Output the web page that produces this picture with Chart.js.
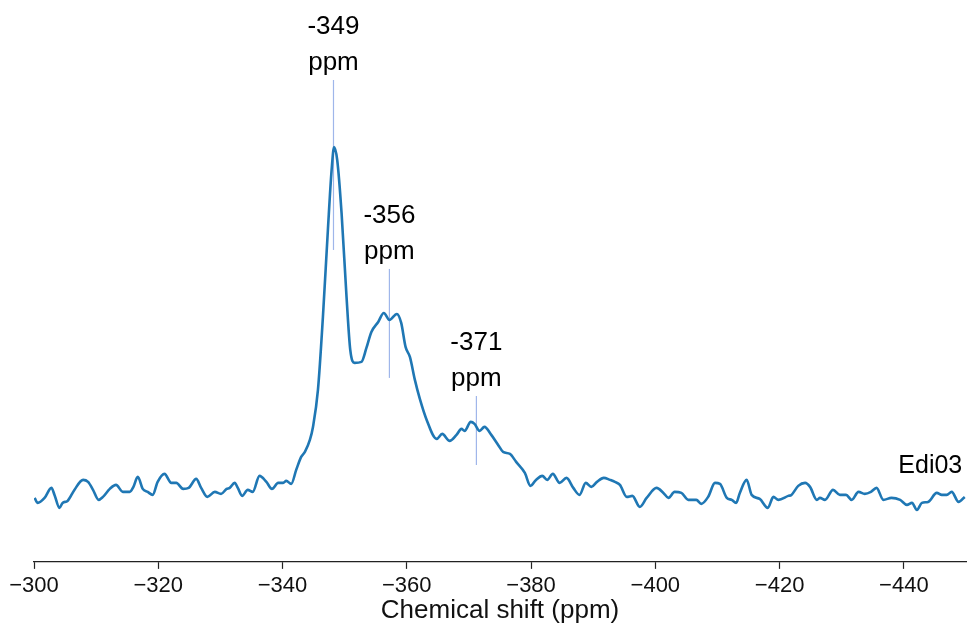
<!DOCTYPE html>
<html lang="en">
<head>
  <meta charset="UTF-8">
  <title>Edi03 NMR spectrum</title>
  <script src="https://cdn.jsdelivr.net/npm/chart.js"></script>
  <style>
    html, body { margin: 0; padding: 0; background: #fff; }
    #wrap { position: relative; width: 967px; height: 628px; }
  </style>
</head>
<body>
  <div id="wrap"><canvas id="spectrum"></canvas></div>

  <script>
    // spectrum (ppm, intensity in arbitrary units)
    const shiftPpm = [
      -300.1, -300.6, -301.7, -302.8, -303.3, -304.1, -304.6, -305.4, -306.5, -307.9,
      -308.7, -309.5, -310.4, -311.1, -312.2, -313.2, -314.3, -315.4, -316.0, -316.7,
      -317.5, -318.3, -319.1, -319.9, -321.0, -322.1, -322.9, -324.0, -324.9, -326.1,
      -326.9, -327.9, -329.1, -330.1, -331.0, -331.5, -332.3, -332.8, -333.5, -334.4,
      -335.2, -336.3, -337.4, -338.3, -339.3, -340.1, -340.6, -341.4, -342.2, -343.0,
      -343.6, -344.4, -344.9, -345.7, -346.5, -347.3, -347.9, -348.3, -348.8, -349.5,
      -350.3, -350.9, -351.6, -352.7, -353.5, -354.3, -355.4, -356.3, -357.2, -358.4,
      -359.1, -359.8, -360.5, -361.3, -362.1, -363.2, -364.8, -365.7, -366.9, -368.0,
      -368.8, -369.3, -370.3, -370.9, -371.7, -372.5, -373.6, -374.7, -375.5, -376.6,
      -377.6, -379.0, -379.9, -380.8, -381.8, -382.6, -383.5, -384.6, -385.7, -386.8,
      -387.8, -388.8, -389.7, -390.6, -391.7, -392.7, -393.5, -394.3, -395.4, -396.3,
      -397.5, -398.6, -400.2, -401.3, -402.1, -403.1, -404.2, -405.3, -406.6, -407.4,
      -408.5, -409.6, -410.4, -411.5, -412.3, -413.0, -413.6, -414.7, -415.5, -416.8,
      -418.1, -419.0, -419.8, -421.4, -421.9, -423.0, -424.1, -424.9, -426.0, -426.5,
      -427.3, -428.6, -429.7, -430.7, -431.6, -432.7, -433.7, -434.7, -435.6, -436.7,
      -438.0, -439.4, -440.5, -441.3, -442.1, -442.9, -443.9, -445.3, -446.1, -446.9,
      -447.7, -448.8, -449.8
    ];
    const intensity = [
      64, 59, 64, 74, 67, 54, 59, 61, 72, 82,
      80, 72, 62, 65, 73, 77, 70, 70, 75, 85,
      73, 70, 67, 80, 88, 79, 79, 73, 74, 83,
      74, 65, 70, 68, 73, 74, 79, 74, 66, 72,
      70, 86, 80, 73, 79, 79, 81, 78, 92, 105,
      110, 122, 135, 172, 245, 332, 392, 415, 402, 349,
      265, 212, 199, 200, 214, 230, 240, 249, 242, 248,
      239, 215, 205, 182, 163, 142, 123, 128, 121, 127,
      133, 131, 140, 138, 131, 135, 127, 117, 110, 108,
      100, 89, 76, 82, 86, 82, 88, 79, 84, 74,
      67, 79, 75, 80, 84, 82, 80, 77, 65, 66,
      55, 64, 74, 69, 64, 70, 69, 62, 62, 58,
      65, 79, 78, 64, 62, 59, 69, 82, 67, 63,
      54, 65, 62, 66, 67, 76, 79, 75, 62, 64,
      62, 72, 67, 67, 62, 70, 68, 70, 74, 62,
      64, 62, 57, 59, 52, 59, 60, 69, 67, 67,
      70, 60, 65
    ];

    // peak markers
    const markerPpm = [-348.2, -357.2, -371.2];
    const markerLabels = ['-349', '-356', '-371'];
    const markerBottom = [312, 184, 97];
    const markerTop = [482, 293, 166];

    const sampleName = 'Edi03';
    const tickValues = [-300, -320, -340, -360, -380, -400, -420, -440];

    const FONT = '"Liberation Sans", Arial, sans-serif';

    const spectrumPoints = shiftPpm.map((x, i) => ({ x: x, y: intensity[i] }));

    const markerSets = markerPpm.map((p, i) => ({
      data: [{ x: p, y: markerBottom[i] }, { x: p, y: markerTop[i] }],
      showLine: true,
      borderColor: '#9fb6ea',
      borderWidth: 1.2,
      pointRadius: 0
    }));

    // text above the markers + sample name
    const labelPlugin = {
      id: 'peakLabels',
      afterDatasetsDraw(chart) {
        const ctx = chart.ctx;
        const xs = chart.scales.x, ys = chart.scales.y;
        ctx.save();
        ctx.fillStyle = '#000';
        ctx.font = '26px ' + FONT;
        ctx.textAlign = 'center';
        ctx.textBaseline = 'middle';
        markerPpm.forEach((p, i) => {
          const px = xs.getPixelForValue(p);
          const top = ys.getPixelForValue(markerTop[i]);
          ctx.fillText(markerLabels[i], px, top - 53);
          ctx.fillText('ppm', px, top - 17);
        });
        ctx.font = '25px ' + FONT;
        ctx.textAlign = 'right';
        ctx.fillText(sampleName, xs.getPixelForValue(-449.4), ys.getPixelForValue(96));
        ctx.restore();
      }
    };

    const ctx = document.getElementById('spectrum').getContext('2d');
    new Chart(ctx, {
      type: 'scatter',
      data: {
        datasets: [
          {
            data: spectrumPoints,
            showLine: true,
            borderColor: '#1f77b4',
            borderWidth: 2.6,
            pointRadius: 0,
            cubicInterpolationMode: 'monotone'
          },
          ...markerSets
        ]
      },
      options: {
        responsive: true,
        maintainAspectRatio: false,
        animation: false,
        layout: { padding: { left: 34, right: 1, top: 20, bottom: 9 } },
        plugins: {
          legend: { display: false },
          tooltip: { enabled: false }
        },
        scales: {
          x: {
            type: 'linear',
            reverse: true,
            min: -450,
            max: -300,
            afterBuildTicks: axis => { axis.ticks = tickValues.map(v => ({ value: v })); },
            grid: {
              display: true,
              drawOnChartArea: false,
              drawTicks: true,
              tickLength: 7,
              tickWidth: 1.2,
              tickColor: '#222'
            },
            border: { display: true, color: '#222', width: 1.2 },
            ticks: {
              color: '#111',
              padding: 6,
              maxRotation: 0,
              font: { size: 22, family: FONT, lineHeight: 1 },
              callback: v => '\u2212' + Math.abs(v)
            },
            title: {
              display: true,
              text: 'Chemical shift (ppm)',
              color: '#111',
              padding: { top: 0, bottom: 0 },
              font: { size: 26, family: FONT, lineHeight: 0.62 }
            }
          },
          y: {
            display: false,
            min: 0,
            max: 542
          }
        }
      },
      plugins: [labelPlugin]
    });
  </script>
</body>
</html>
